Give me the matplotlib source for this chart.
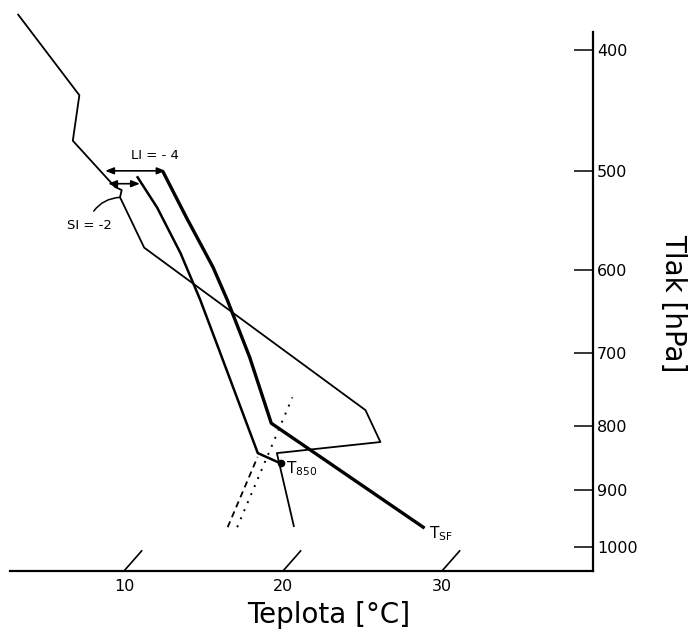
import numpy as np
import matplotlib
matplotlib.use("Agg")
import matplotlib.pyplot as plt
from matplotlib.ticker import NullLocator

# skewed T - log p diagram
SKEW = 30.0        # degC shift of the isotherms per unit of ln(p)
P_BOTTOM = 1045.0
P_TOP = 365.0

# environmental sounding
env_p = [375, 435, 473, 515, 518, 525, 576, 777, 824, 841, 962]
env_t = [-27.4, -19.1, -17.0, -11.8, -11.2, -10.9, -6.6, 16.3, 19.0, 13.1, 18.2]

# parcel lifted from the surface (T_SF)
sf_p = [964, 796, 705, 634, 597, 545, 502]
sf_t = [26.4, 11.1, 6.1, 1.5, -1.2, -5.6, -9.5]

# parcel lifted from 850 hPa (T850)
p8_p = [857, 841, 696, 634, 582, 535, 506]
p8_t = [13.9, 11.9, 3.8, -0.2, -4.0, -8.0, -10.9]

# dashed and dotted guide lines
dash_p = [964, 847]
dash_t = [14.1, 12.1]
dot_p = [964, 759]
dot_t = [14.7, 11.0]

# lifted index / showalter index
li_p = 500
li_t = [-13.3, -9.5]
si_p = 512
si_t = [-12.4, -10.4]

p_ticks = [400, 500, 600, 700, 800, 900, 1000]
t_ticks = [10, 20, 30]


def skew_x(t, p):
    return np.asarray(t, dtype=float) + SKEW * np.log(P_BOTTOM / np.asarray(p, dtype=float))


fig = plt.figure(figsize=(6.88, 6.33), dpi=100)
ax = fig.add_axes([10 / 688, 62 / 633, 583 / 688, 571 / 633])

ax.plot(skew_x(env_t, env_p), env_p, color="black", lw=1.3)
ax.plot(skew_x(sf_t, sf_p), sf_p, color="black", lw=2.4)
ax.plot(skew_x(p8_t, p8_p), p8_p, color="black", lw=1.8)
ax.plot(skew_x(dash_t, dash_p), dash_p, color="black", lw=1.3, ls=(0, (3.5, 2.5)))
ax.plot(skew_x(dot_t, dot_p), dot_p, color="black", lw=1.4, ls=(0, (1, 3.5)))
ax.plot(skew_x(p8_t[0], p8_p[0]), p8_p[0], "o", color="black", ms=4.5)

# short isotherm pieces as x ticks
for t in t_ticks:
    pp = np.array([P_BOTTOM, 1007])
    ax.plot(skew_x(np.full(2, t), pp), pp, color="black", lw=1.2)

# LI and SI arrows
for tt, pp in [(li_t, li_p), (si_t, si_p)]:
    ax.annotate("", xy=(skew_x(tt[1], pp), pp), xytext=(skew_x(tt[0], pp), pp),
                arrowprops=dict(arrowstyle="<|-|>,head_length=0.5,head_width=0.2",
                                lw=1.2, color="black", shrinkA=0, shrinkB=0))

li_mid = (skew_x(li_t[0], li_p) + skew_x(li_t[1], li_p)) / 2
ax.annotate("LI = - 4", xy=(li_mid, li_p), xytext=(14, 11), textcoords="offset points",
            ha="center", va="center", fontsize=9.5)

ax.annotate("SI = -2", xy=(skew_x(env_t[5], env_p[5]), env_p[5]), xytext=(-22, -20),
            textcoords="offset points", ha="center", va="center", fontsize=9.5,
            arrowprops=dict(arrowstyle="-", connectionstyle="arc3,rad=-0.3",
                            relpos=(0.5, 1.0), shrinkA=4, shrinkB=0, lw=1.1, color="black"))

ax.annotate(r"$\mathregular{T_{850}}$", xy=(skew_x(p8_t[0], p8_p[0]), p8_p[0]),
            xytext=(4, -4), textcoords="offset points", ha="left", va="center", fontsize=11)
ax.annotate(r"$\mathregular{T_{SF}}$", xy=(skew_x(sf_t[0], sf_p[0]), sf_p[0]),
            xytext=(4, -5), textcoords="offset points", ha="left", va="center", fontsize=11)

ax.set_yscale("log")
ax.set_ylim(P_BOTTOM, P_TOP)
ax.set_xlim(2.83, 39.5)
ax.yaxis.set_minor_locator(NullLocator())
ax.set_yticks(p_ticks)
ax.set_yticklabels([str(p) for p in p_ticks])
ax.yaxis.tick_right()
ax.tick_params(axis="y", which="major", direction="in", length=14, width=1.1,
               pad=3, labelsize=11.5)
ax.set_xticks(t_ticks)
ax.set_xticklabels([str(t) for t in t_ticks])
ax.tick_params(axis="x", length=0, pad=6, labelsize=11.5)

for side in ["top", "left"]:
    ax.spines[side].set_visible(False)
ax.spines["bottom"].set_linewidth(1.6)
ax.spines["right"].set_linewidth(1.6)
ax.spines["right"].set_bounds(P_BOTTOM, 387)
ax.patch.set_alpha(0)

fig.text(329 / 688, 1 - 615 / 633, "Teplota [°C]", ha="center", va="center", fontsize=20)
fig.text(673 / 688, 1 - 303 / 633, "Tlak [hPa]", ha="center", va="center",
         rotation=-90, fontsize=20)

fig.savefig("out.png", dpi=100)
